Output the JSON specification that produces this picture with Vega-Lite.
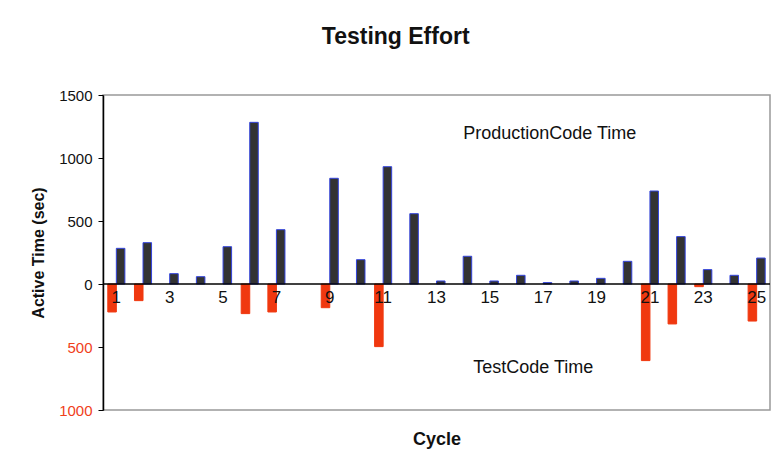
{
  "$schema": "https://vega.github.io/schema/vega-lite/v6.json",
  "width": 667,
  "height": 315,
  "padding": {"left": 30, "top": 26, "right": 5, "bottom": 5},
  "background": "white",
  "title": {"text": "Testing Effort", "fontSize": 23, "font": "Liberation Sans", "fontWeight": "bold", "anchor": "middle", "frame": "bounds", "offset": 39, "dx": -5, "color": "#111"},
  "config": {"view": {"stroke": "#999", "strokeWidth": 1.5}, "font": "Liberation Sans"},
  "datasets": {
    "bars": [
      {"cycle": 1, "series": "Production", "value": 283},
      {"cycle": 2, "series": "Production", "value": 328},
      {"cycle": 3, "series": "Production", "value": 82},
      {"cycle": 4, "series": "Production", "value": 58},
      {"cycle": 5, "series": "Production", "value": 296},
      {"cycle": 6, "series": "Production", "value": 1283},
      {"cycle": 7, "series": "Production", "value": 431},
      {"cycle": 9, "series": "Production", "value": 839},
      {"cycle": 10, "series": "Production", "value": 193},
      {"cycle": 11, "series": "Production", "value": 931},
      {"cycle": 12, "series": "Production", "value": 558},
      {"cycle": 13, "series": "Production", "value": 24},
      {"cycle": 14, "series": "Production", "value": 220},
      {"cycle": 15, "series": "Production", "value": 24},
      {"cycle": 16, "series": "Production", "value": 69},
      {"cycle": 17, "series": "Production", "value": 11},
      {"cycle": 18, "series": "Production", "value": 24},
      {"cycle": 19, "series": "Production", "value": 45},
      {"cycle": 20, "series": "Production", "value": 180},
      {"cycle": 21, "series": "Production", "value": 738},
      {"cycle": 22, "series": "Production", "value": 376},
      {"cycle": 23, "series": "Production", "value": 114},
      {"cycle": 24, "series": "Production", "value": 69},
      {"cycle": 25, "series": "Production", "value": 206},
      {"cycle": 1, "series": "Test", "value": -222},
      {"cycle": 2, "series": "Test", "value": -132},
      {"cycle": 6, "series": "Test", "value": -235},
      {"cycle": 7, "series": "Test", "value": -222},
      {"cycle": 9, "series": "Test", "value": -188},
      {"cycle": 11, "series": "Test", "value": -497},
      {"cycle": 21, "series": "Test", "value": -608},
      {"cycle": 22, "series": "Test", "value": -317},
      {"cycle": 23, "series": "Test", "value": -21},
      {"cycle": 25, "series": "Test", "value": -294}
    ],
    "notes": [
      {"cycle": 14, "value": 1190, "label": "ProductionCode Time"},
      {"cycle": 14, "value": -665, "label": "TestCode Time"}
    ]
  },
  "layer": [
    {
      "data": {"name": "bars"},
      "mark": {"type": "bar", "strokeWidth": 1},
      "encoding": {
        "x": {
          "field": "cycle", "type": "ordinal",
          "scale": {"domain": [1,2,3,4,5,6,7,8,9,10,11,12,13,14,15,16,17,18,19,20,21,22,23,24,25], "paddingInner": 0.36, "paddingOuter": 0.18},
          "axis": {
            "title": "Cycle", "offset": -126, "domain": false, "ticks": false,
            "labelPadding": 5, "labelFontSize": 17, "labelColor": "#111", "labelAngle": 0,
            "labelExpr": "datum.value % 2 == 1 ? datum.label : ''", "zindex": 1,
            "titleFontSize": 18, "titleFontWeight": "bold", "titleY": 155, "titleBaseline": "middle", "titleColor": "#111"
          }
        },
        "xOffset": {"field": "series", "type": "nominal", "sort": ["Test", "Production"], "scale": {"paddingInner": 0}},
        "y": {
          "field": "value", "type": "quantitative",
          "scale": {"domain": [-1000, 1500], "nice": false},
          "axis": {
            "title": "Active Time (sec)", "values": [-1000, -500, 0, 500, 1000, 1500],
            "labelExpr": "format(abs(datum.value), 'd')",
            "labelColor": {"condition": {"test": "datum.value < 0", "value": "#f0401a"}, "value": "#111"},
            "labelFontSize": 15, "grid": false, "domainColor": "#000", "domainWidth": 1.5,
            "tickColor": "#000", "tickSize": 5, "labelPadding": 6,
            "titleFontSize": 16, "titleFontWeight": "bold", "titlePadding": 12, "titleColor": "#111"
          }
        },
        "color": {"field": "series", "type": "nominal", "scale": {"domain": ["Test", "Production"], "range": ["#f0380f", "#333333"]}, "legend": null},
        "stroke": {"field": "series", "type": "nominal", "scale": {"domain": ["Test", "Production"], "range": ["#f0380f", "#3344dd"]}, "legend": null}
      }
    },
    {
      "data": {"values": [{}]},
      "mark": {"type": "rule", "color": "#000", "strokeWidth": 1.5},
      "encoding": {"y": {"datum": 0}}
    },
    {
      "data": {"name": "notes"},
      "transform": [{"filter": "datum.label == 'ProductionCode Time'"}],
      "mark": {"type": "text", "align": "left", "baseline": "middle", "fontSize": 18, "color": "#111"},
      "encoding": {
        "x": {"field": "cycle", "type": "ordinal", "title": "Cycle"},
        "y": {"field": "value", "type": "quantitative", "title": "Active Time (sec)"},
        "text": {"field": "label"}
      }
    },
    {
      "data": {"name": "notes"},
      "transform": [{"filter": "datum.label == 'TestCode Time'"}],
      "mark": {"type": "text", "align": "left", "baseline": "middle", "fontSize": 18, "color": "#111", "dx": 10},
      "encoding": {
        "x": {"field": "cycle", "type": "ordinal", "title": "Cycle"},
        "y": {"field": "value", "type": "quantitative", "title": "Active Time (sec)"},
        "text": {"field": "label"}
      }
    }
  ]
}
